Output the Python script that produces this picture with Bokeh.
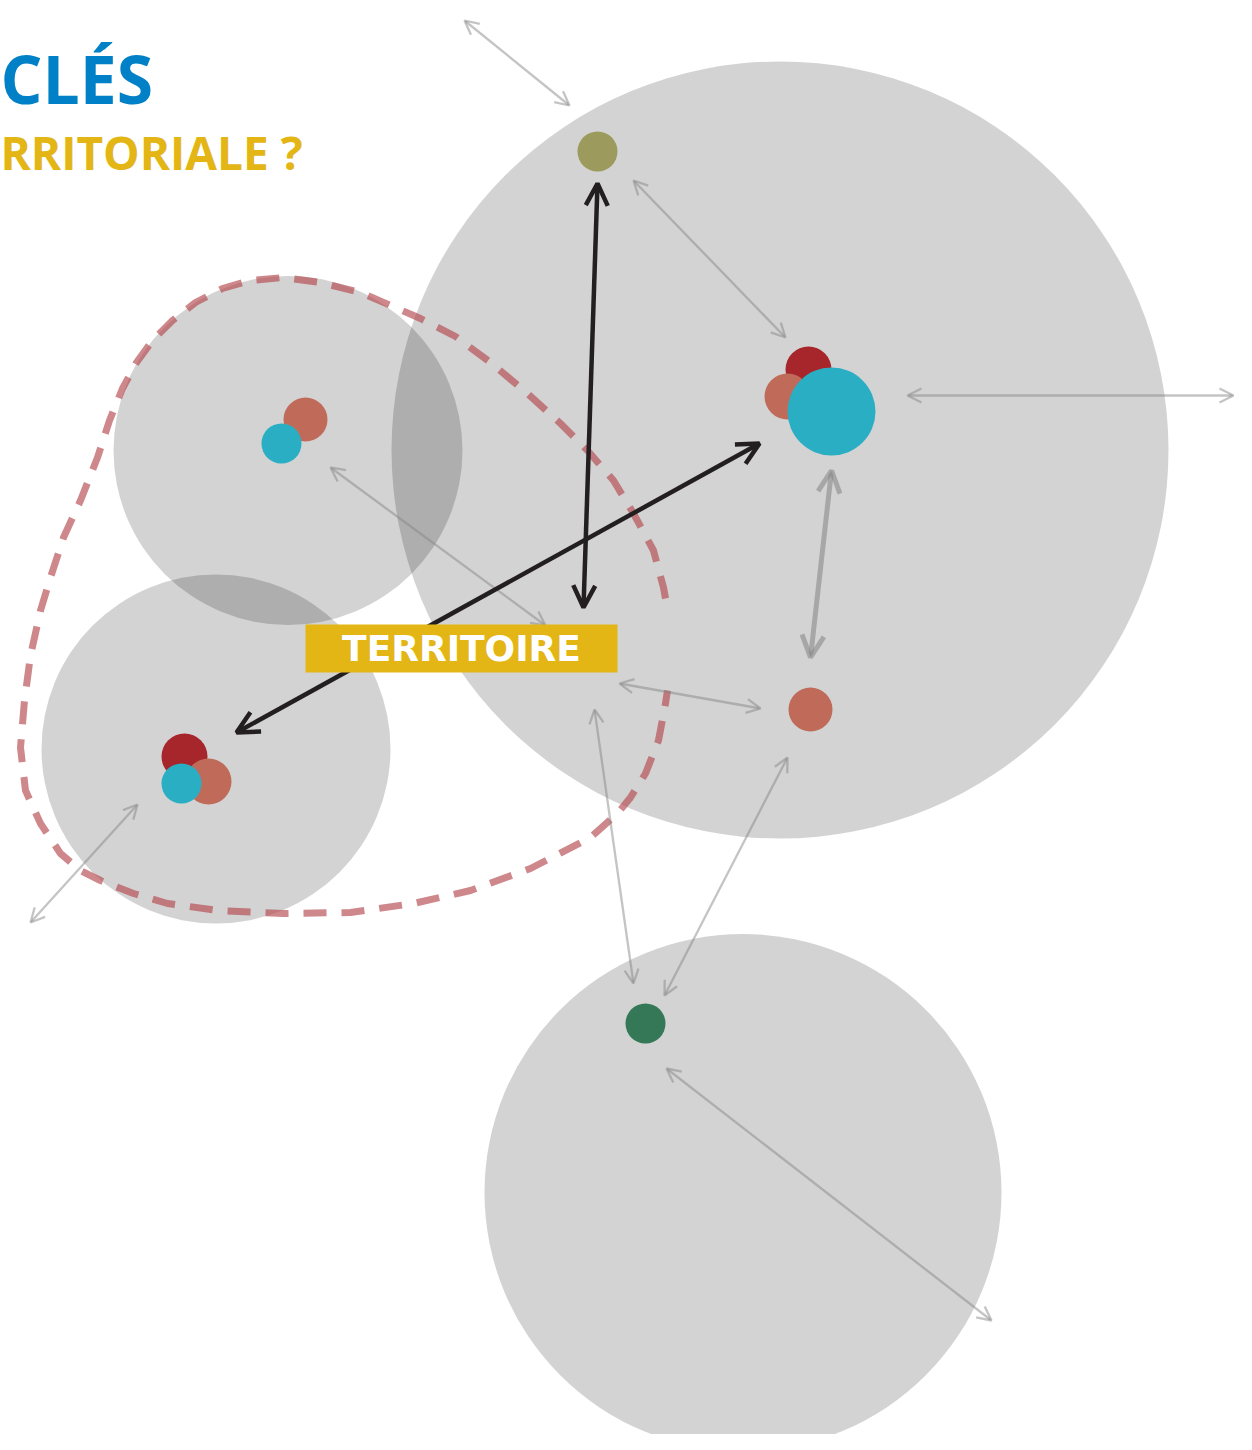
from bokeh.plotting import figure
from bokeh.models import Range1d, Arrow, OpenHead, ColumnDataSource
from bokeh.core.properties import value
from bokeh.embed import file_html
from bokeh.resources import INLINE

# ---- data (picture pixel coordinates, y downward) ----
zone_x = [779.5, 287.5, 215.5, 742.5]
zone_y = [449.5, 450.0, 748.5, 1192.0]
zone_r = [388.5, 174.5, 174.5, 258.5]

node_x = [597, 808, 787, 831, 305, 281, 184, 208, 181, 810, 645]
node_y = [151, 369, 396, 411, 419, 443, 756, 781, 783, 709, 1023]
node_r = [20, 23, 23, 44, 22, 20, 23, 23, 20, 22, 20]
node_kind = ["olive", "darkred", "salmon", "cyan", "salmon", "cyan",
             "darkred", "salmon", "cyan", "salmon", "green"]

# black (strong) links
strong_x0 = [597, 236]
strong_y0 = [183, 732]
strong_x1 = [583, 759]
strong_y1 = [607, 443]

# medium gray link
medium_x0 = [831]
medium_y0 = [470]
medium_x1 = [810]
medium_y1 = [657]

# thin gray links
weak_x0 = [464, 633, 907, 330, 619, 594, 787, 666, 137]
weak_y0 = [20, 180, 395, 467, 683, 709, 757, 1068, 804]
weak_x1 = [569, 785, 1233, 545, 760, 633, 664, 991, 30]
weak_y1 = [105, 337, 395, 625, 708, 983, 995, 1320, 922]

# dashed "territory" contour
contour_x = [665, 663, 653, 633, 613, 587, 560, 527, 490, 455, 420, 397, 360, 320,
             283, 250, 222, 195, 172, 152, 136, 122, 109, 97, 80, 63, 50, 40, 30,
             24, 20, 25, 40, 60, 80, 100, 133, 167, 217, 283, 350, 413, 470, 530,
             590, 617, 630, 645, 658, 665, 667]
contour_y = [598, 587, 550, 513, 480, 450, 423, 393, 362, 336, 318, 308, 292, 282,
             277, 280, 288, 302, 320, 340, 362, 388, 420, 457, 500, 537, 577, 610, 655,
             700, 747, 790, 823, 853, 870, 880, 893, 903, 910, 913, 912, 903, 890, 868,
             837, 813, 797, 773, 740, 703, 690]

title_text = "CLÉS"
subtitle_text = "RRITORIALE ?"
label_text = "TERRITOIRE"

kind_colors = {
    "olive": "#9c9b5d",
    "darkred": "#a6262b",
    "salmon": "#c06b5a",
    "cyan": "#2aaec3",
    "green": "#347857",
}

# ---- figure ----
p = figure(width=1236, height=1434, output_backend="svg", toolbar_location=None,
           x_range=Range1d(0, 1236), y_range=Range1d(1434, 0),
           x_axis_type=None, y_axis_type=None, min_border=0,
           background_fill_color="white", border_fill_color="white")
p.outline_line_color = None
p.grid.visible = False

# gray zones
p.circle(x=zone_x, y=zone_y, radius=zone_r, fill_color="black", fill_alpha=0.173,
         line_color=None)

# dashed contour
p.line(x=contour_x, y=contour_y, line_color="#b4464b", line_alpha=0.65, line_width=7,
       line_dash="23 15")

# links
def add_arrows(x0, y0, x1, y1, color, alpha, width, size):
    src = ColumnDataSource(dict(x0=x0, y0=y0, x1=x1, y1=y1))
    head = lambda: OpenHead(size=size, line_color=color, line_alpha=alpha, line_width=width)
    p.add_layout(Arrow(source=src, x_start="x0", y_start="y0", x_end="x1", y_end="y1",
                       line_color=color, line_alpha=alpha, line_width=width,
                       start=head(), end=head()))

add_arrows(weak_x0, weak_y0, weak_x1, weak_y1, "#838383", 0.48, 2.3, 14)
add_arrows(medium_x0, medium_y0, medium_x1, medium_y1, "#838383", 0.55, 5, 22)
add_arrows(strong_x0, strong_y0, strong_x1, strong_y1, "#231f20", 1.0, 4.5, 22)

# nodes
r_nodes = p.circle(x=node_x, y=node_y, radius=node_r,
                   fill_color=[kind_colors[k] for k in node_kind], line_color=None)
r_nodes.level = "overlay"

# TERRITOIRE label
r_box = p.quad(left=[305], right=[617], top=[624], bottom=[672], fill_color="#e3b515",
               line_color=None)
r_box.level = "overlay"
r_lab = p.text(x=[461], y=[648], text=[label_text], text_color="white",
               text_font=value("DejaVu Sans"), text_font_style="bold",
               text_font_size=value("36px"), text_align="center",
               text_baseline="middle")
r_lab.level = "overlay"

# titles
p.text(x=[0], y=[77], text=[title_text], text_color="#0080c6",
       text_font=value("Open Sans"), text_font_style="bold",
       text_font_size=value("66px"), text_align="left", text_baseline="middle")
p.text(x=[0], y=[151], text=[subtitle_text], text_color="#e3b515",
       text_font=value("Open Sans"), text_font_style="bold",
       text_font_size=value("46px"), text_align="left", text_baseline="middle")

open("out.html", "w").write(file_html(p, INLINE))
